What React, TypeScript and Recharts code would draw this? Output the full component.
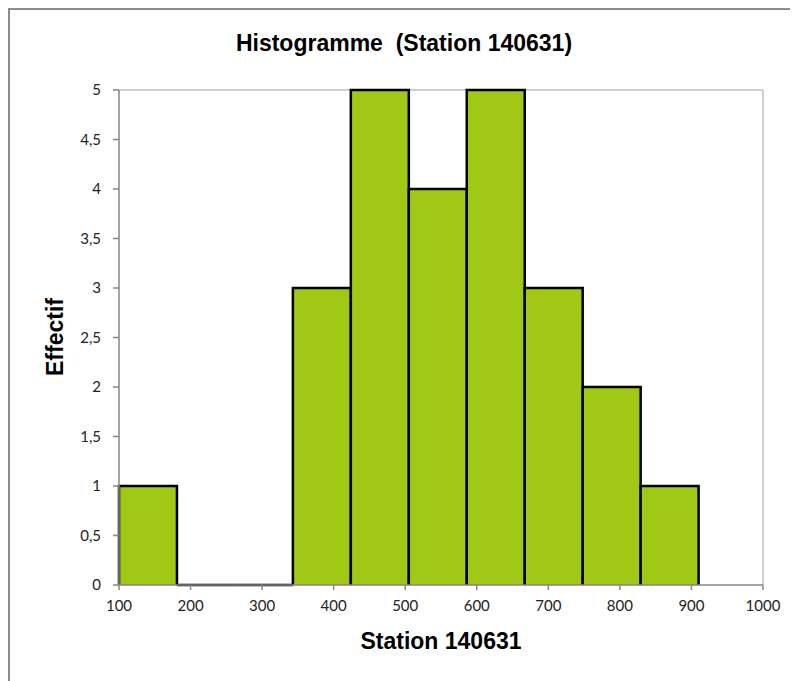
import React from 'react'
import {
  ComposedChart,
  XAxis,
  YAxis,
  CartesianGrid,
  ReferenceArea,
  Line
} from 'recharts'

// histogram classes (bin edges) and counts
const binStart = [100, 181, 262, 343, 424, 505, 586, 667, 748, 829]
const binEnd = [181, 262, 343, 424, 505, 586, 667, 748, 829, 910]
const effectif = [1, 0, 0, 3, 5, 4, 5, 3, 2, 1]

const xTicks = [100, 200, 300, 400, 500, 600, 700, 800, 900, 1000]
const yTicks = [0, 0.5, 1, 1.5, 2, 2.5, 3, 3.5, 4, 4.5, 5]

const title = 'Histogramme  (Station 140631)'
const xTitle = 'Station 140631'
const yTitle = 'Effectif'

const data = binStart.map((s, i) => ({ start: s, end: binEnd[i], n: effectif[i] }))

const BAR_FILL = '#9FC915'
const AXIS = '#868686'
const tickFont = { fontFamily: 'Lato, "Open Sans", sans-serif', fontSize: 15, fill: '#222' }

// fill + outline without bottom edge; works for zero-height bins too
const BinShape = (props: any) => {
  const { x, y, width, height } = props
  return (
    <g>
      {height > 0 && <rect x={x} y={y} width={width} height={height} fill={BAR_FILL} />}
      <path
        d={`M${x},${y + height} V${y} H${x + width} V${y + height}`}
        fill="none"
        stroke="#000"
        strokeWidth={2.5}
        strokeLinejoin="miter"
      />
    </g>
  )
}

const frFmt = (v: number) => String(v).replace('.', ',')

export default function App() {
  return (
    <div
      style={{
        position: 'relative',
        width: 788,
        height: 671,
        borderLeft: '2px solid #8c8c8c',
        borderTop: '2px solid #8c8c8c',
        fontFamily: '"Liberation Sans", Arial, sans-serif'
      }}
    >
      <div
        style={{
          position: 'absolute',
          left: 0,
          width: 788,
          top: 20,
          textAlign: 'center',
          fontWeight: 'bold',
          fontSize: 23,
          whiteSpace: 'pre',
          color: '#000'
        }}
      >
        {title}
      </div>
      <ComposedChart
        width={788}
        height={671}
        data={data}
        margin={{ top: 80, right: 35, left: 0, bottom: 0 }}
      >
        <CartesianGrid
          horizontal
          vertical
          horizontalValues={[5]}
          verticalValues={[1000]}
          stroke="#c0c0c0"
          strokeWidth={1.5}
        />
        <XAxis
          type="number"
          dataKey="start"
          domain={[100, 1000]}
          ticks={xTicks}
          interval={0}
          height={96}
          axisLine={{ stroke: AXIS, strokeWidth: 1.5 }}
          tickLine={{ stroke: AXIS, strokeWidth: 1.5 }}
          tickSize={5}
          tickMargin={10}
          tick={tickFont}
        />
        <YAxis
          type="number"
          dataKey="n"
          domain={[0, 5]}
          ticks={yTicks}
          interval={0}
          width={109}
          axisLine={{ stroke: AXIS, strokeWidth: 1.5 }}
          tickLine={{ stroke: AXIS, strokeWidth: 1.5 }}
          tickSize={6}
          tickMargin={12}
          tickFormatter={frFmt}
          tick={tickFont}
        />
        {/* invisible series so the axes get their scales */}
        <Line
          dataKey="n"
          stroke="none"
          dot={false}
          activeDot={false}
          legendType="none"
          isAnimationActive={false}
        />
        {data.map((d, i) => (
          <ReferenceArea
            key={`bin-${i}`}
            x1={d.start}
            x2={d.end}
            y1={0}
            y2={d.n}
            fillOpacity={1}
            shape={BinShape}
          />
        ))}
      </ComposedChart>
      <div
        style={{
          position: 'absolute',
          left: 109,
          width: 644,
          top: 618,
          textAlign: 'center',
          fontWeight: 'bold',
          fontSize: 23,
          color: '#000'
        }}
      >
        {xTitle}
      </div>
      <div
        style={{
          position: 'absolute',
          left: 45,
          top: 327,
          width: 0,
          height: 0
        }}
      >
        <div
          style={{
            position: 'absolute',
            transform: 'translate(-50%, -50%) rotate(-90deg)',
            fontWeight: 'bold',
            fontSize: 23,
            whiteSpace: 'nowrap',
            color: '#000'
          }}
        >
          {yTitle}
        </div>
      </div>
    </div>
  )
}
